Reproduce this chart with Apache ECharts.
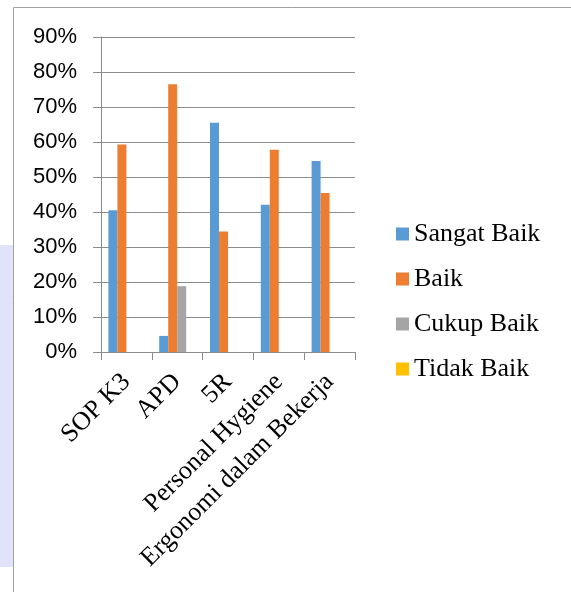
<!DOCTYPE html>
<html>
<head>
<meta charset="utf-8">
<script src="https://cdn.jsdelivr.net/npm/echarts@6/dist/echarts.min.js"></script>
<style>html,body{margin:0;padding:0;background:#fff}#c{width:571px;height:592px}</style>
</head>
<body>
<div id="c"></div>
<script>
const categories = ['SOP K3', 'APD', '5R', 'Personal Hygiene', 'Ergonomi dalam Bekerja'];
const seriesNames = ['Sangat Baik', 'Baik', 'Cukup Baik', 'Tidak Baik'];
const sangatBaik = [40.5, 4.6, 65.5, 42.1, 54.6];
const baik = [59.3, 76.5, 34.4, 57.8, 45.4];
const cukupBaik = [0, 18.8, 0, 0, 0];
const tidakBaik = [0, 0, 0, 0, 0];
const colors = ['#5b9bd5', '#ed7d31', '#a5a5a5', '#ffc000'];
const values = [sangatBaik, baik, cukupBaik, tidakBaik];

const chart = echarts.init(document.getElementById('c'));
chart.setOption({
  animation: false,
  graphic: [
    { type: 'rect', shape: { x: 0, y: 245, width: 13, height: 322 }, style: { fill: '#e2e2fa' }, z: 0 },
    { type: 'polyline', shape: { points: [[13.5, 592], [13.5, 7.5], [571, 7.5]] }, style: { stroke: '#a0a0a0', lineWidth: 1, fill: null }, z: 1 }
  ],
  grid: { left: 101, right: 216, top: 37, bottom: 240 },
  legend: {
    orient: 'vertical', left: 391, top: 216,
    itemWidth: 13, itemHeight: 13, itemGap: 19,
    icon: 'rect',
    data: seriesNames,
    textStyle: { fontFamily: 'Liberation Serif', fontSize: 26, color: '#000', lineHeight: 26 }
  },
  xAxis: {
    type: 'category', data: categories,
    axisLine: { lineStyle: { color: '#8c8c8c' } },
    axisTick: { show: true, length: 8, lineStyle: { color: '#8c8c8c' } },
    axisLabel: { rotate: 45, interval: 0, fontFamily: 'Liberation Serif', fontSize: 26, color: '#000', margin: 26 }
  },
  yAxis: {
    type: 'value', min: 0, max: 90, interval: 10,
    axisLine: { show: true, lineStyle: { color: '#8c8c8c' } },
    axisTick: { show: true, length: 8, lineStyle: { color: '#8c8c8c' } },
    splitLine: { lineStyle: { color: '#8c8c8c' } },
    axisLabel: { formatter: '{value}%', fontFamily: 'Liberation Sans', fontSize: 22, color: '#000', margin: 24 }
  },
  series: seriesNames.map((n, i) => ({
    name: n, type: 'bar', data: values[i], barWidth: 9, barGap: '0%',
    itemStyle: { color: colors[i] }
  }))
});
</script>
</body>
</html>
